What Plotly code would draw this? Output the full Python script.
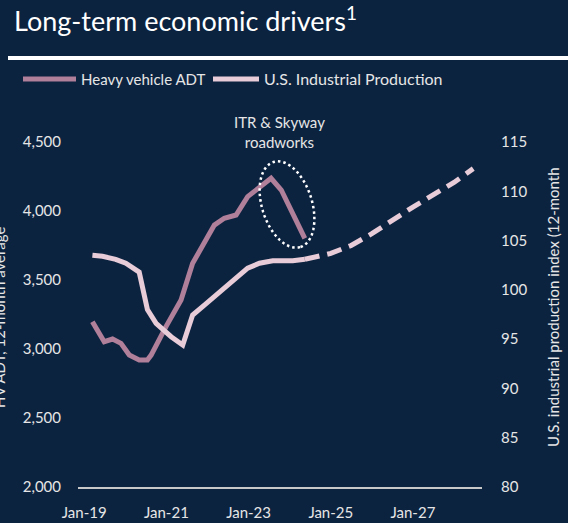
import math
import plotly.graph_objects as go

# ---------------- data ----------------
hv_dates = ["2019-03-15", "2019-06-28", "2019-09-10", "2019-11-24", "2020-02-06",
            "2020-05-04", "2020-07-16", "2020-08-18", "2020-12-28", "2021-05-11",
            "2021-08-22", "2022-03-03", "2022-05-30", "2022-09-12", "2022-12-24",
            "2023-04-08", "2023-07-20", "2023-10-19", "2024-05-15"]
hv_values = [3198, 3053, 3072, 3041, 2956, 2920, 2920, 2956, 3162, 3355,
             3621, 3898, 3947, 3971, 4104, 4176, 4237, 4152, 3802]

ip_dates = ["2019-03-15", "2019-06-13", "2019-10-08", "2020-01-06", "2020-05-04",
            "2020-07-16", "2020-10-01", "2021-02-12", "2021-05-26", "2021-08-22",
            "2021-12-20", "2022-04-02", "2022-07-16", "2022-12-24", "2023-04-08",
            "2023-08-04", "2024-01-29", "2024-05-15"]
ip_values = [103.5, 103.4, 103.1, 102.7, 101.8, 98.0, 96.6, 95.25, 94.4, 97.45,
             98.6, 99.65, 100.67, 102.2, 102.7, 102.96, 102.96, 103.1]

ip_fc_dates = ["2024-05-15", "2025-01-01", "2025-07-01", "2026-01-01",
               "2027-01-01", "2028-01-01", "2028-06-20"]
ip_fc_values = [103.1, 103.7, 104.5, 105.7, 108.4, 110.9, 112.3]

left_ticks = [2000, 2500, 3000, 3500, 4000, 4500]
right_ticks = [80, 85, 90, 95, 100, 105, 110, 115]

# ---------------- style ----------------
BG = "#0c2340"
HV_COLOR = "#b07f99"
IP_COLOR = "#e8ccd8"
TXT = "#e6e6e6"
FONT = "Lato"

W, H = 568, 523
PX0, PX1, PY0, PY1 = 78, 482, 142, 487   # plot area in pixels


def px(x):
    return (x - PX0) / (PX1 - PX0)


def py(y):
    return (PY1 - y) / (PY1 - PY0)


fig = go.Figure()
fig.add_trace(go.Scatter(x=hv_dates, y=hv_values, mode="lines", name="Heavy vehicle ADT",
                         line=dict(color=HV_COLOR, width=5), yaxis="y"))
fig.add_trace(go.Scatter(x=ip_dates, y=ip_values, mode="lines", name="U.S. Industrial Production",
                         line=dict(color=IP_COLOR, width=5), yaxis="y2"))
fig.add_trace(go.Scatter(x=ip_fc_dates, y=ip_fc_values, mode="lines", showlegend=False,
                         line=dict(color=IP_COLOR, width=5, dash="15px,8px"), yaxis="y2"))

shapes = []
annotations = []

# title & rule
annotations.append(dict(text="Long-term economic drivers<sup>1</sup>", xref="paper", yref="paper",
                        x=px(12), y=py(19), xanchor="left", yanchor="middle", showarrow=False,
                        font=dict(family=FONT, size=27, color="#ffffff")))
shapes.append(dict(type="line", xref="paper", yref="paper", x0=px(8), x1=px(568),
                   y0=py(58), y1=py(58), line=dict(color="#ffffff", width=4)))

# legend (manual)
shapes.append(dict(type="line", xref="paper", yref="paper", x0=px(23), x1=px(76),
                   y0=py(79), y1=py(79), line=dict(color=HV_COLOR, width=5)))
annotations.append(dict(text="Heavy vehicle ADT", xref="paper", yref="paper", x=px(79), y=py(79),
                        xanchor="left", yanchor="middle", showarrow=False,
                        font=dict(family=FONT, size=15, color=TXT)))
shapes.append(dict(type="line", xref="paper", yref="paper", x0=px(213), x1=px(259),
                   y0=py(79), y1=py(79), line=dict(color=IP_COLOR, width=5)))
annotations.append(dict(text="U.S. Industrial Production", xref="paper", yref="paper", x=px(262), y=py(79),
                        xanchor="left", yanchor="middle", showarrow=False,
                        font=dict(family=FONT, size=16, color=TXT)))

# callout
annotations.append(dict(text="ITR & Skyway<br>roadworks", xref="paper", yref="paper", x=px(279), y=py(132),
                        xanchor="center", yanchor="middle", showarrow=False,
                        font=dict(family=FONT, size=15, color=TXT)))
cx, cy, a, b = 287, 204.5, 44.6, 25.0
ux, uy = 27 / math.hypot(27, 85), 85 / math.hypot(27, 85)
vx, vy = uy, -ux
pts = []
for i in range(73):
    t = 2 * math.pi * i / 72
    ex = cx + a * math.cos(t) * ux + b * math.sin(t) * vx
    ey = cy + a * math.cos(t) * uy + b * math.sin(t) * vy
    pts.append((px(ex), py(ey)))
path = "M" + " L".join(f"{x:.5f},{y:.5f}" for x, y in pts) + " Z"
shapes.append(dict(type="path", xref="paper", yref="paper", path=path,
                   line=dict(color="#ffffff", width=2.5, dash="2.5px,3px")))

# axis titles
annotations.append(dict(text="HV ADT, 12-month average", xref="paper", yref="paper", x=px(-1), y=py(318),
                        xanchor="center", yanchor="middle", textangle=-90, showarrow=False,
                        font=dict(family=FONT, size=15, color=TXT)))
annotations.append(dict(text="U.S. industrial production index (12-month", xref="paper", yref="paper",
                        x=px(553), y=py(307), xanchor="center", yanchor="middle", textangle=-90,
                        showarrow=False, font=dict(family=FONT, size=15, color=TXT)))

fig.update_layout(
    width=W, height=H,
    paper_bgcolor=BG, plot_bgcolor=BG,
    margin=dict(l=PX0, r=W - PX1, t=PY0, b=H - PY1, pad=0, autoexpand=False),
    showlegend=False,
    font=dict(family=FONT, size=15, color=TXT),
    xaxis=dict(type="date", range=["2018-11-07", "2028-09-06"], tick0="2019-01-01", dtick="M24",
               tickformat="%b-%y", showgrid=False, zeroline=False, showline=True,
               linecolor="#c8c8c8", linewidth=1.5, ticks="", ticklabelstandoff=11,
               automargin=False, tickfont=dict(family=FONT, size=15, color=TXT)),
    yaxis=dict(range=[2000, 4500], tickvals=left_ticks, tickformat=",d", showgrid=False,
               zeroline=False, showline=False, ticks="", ticklabelstandoff=16, automargin=False,
               tickfont=dict(family=FONT, size=15, color=TXT)),
    yaxis2=dict(range=[80, 115], tickvals=right_ticks, overlaying="y", side="right",
                showgrid=False, zeroline=False, showline=False, ticks="", ticklabelstandoff=18,
                automargin=False, tickfont=dict(family=FONT, size=15, color=TXT)),
    shapes=shapes, annotations=annotations,
)

fig.write_html("out.html", config={"displayModeBar": False},
               post_script="document.body.style.margin='0';")
